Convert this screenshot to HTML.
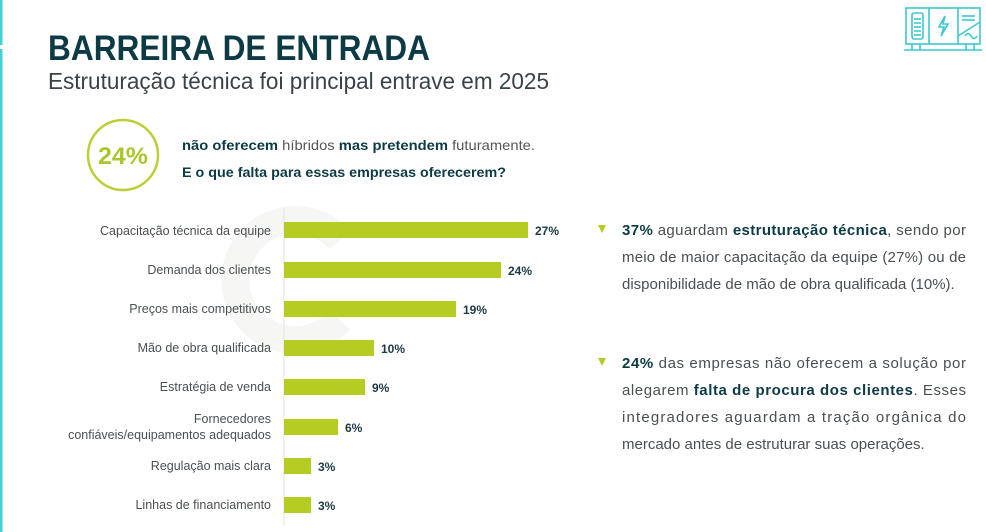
<!DOCTYPE html>
<html><head><meta charset="utf-8"><style>
html,body{margin:0;padding:0;background:#fff}
svg{display:block}
</style></head><body>
<svg width="986" height="532" viewBox="0 0 986 532" xmlns="http://www.w3.org/2000/svg" font-family="Liberation Sans, sans-serif">
<rect x="0" y="0" width="2.5" height="45" fill="#3fd0d8"/>
<rect x="0" y="49" width="2.5" height="483" fill="#3fd0d8"/>
<g fill="none" stroke="#3cc8d0" stroke-width="1.6">
<rect x="906" y="8" width="74" height="36"/>
<line x1="929" y1="8" x2="929" y2="44"/>
<line x1="958" y1="8" x2="958" y2="44"/>
<rect x="912" y="13" width="11" height="26" rx="2"/>
<line x1="914" y1="19" x2="921" y2="19"/><line x1="914" y1="23" x2="921" y2="23"/><line x1="914" y1="27" x2="921" y2="27"/><line x1="914" y1="31" x2="921" y2="31"/><line x1="914" y1="35" x2="921" y2="35"/>
<path d="M945 16 L939 27 L944 27 L941 36 L948 24 L943 24 Z"/>
<line x1="958" y1="36" x2="980" y2="22"/>
<line x1="962" y1="16" x2="975" y2="16"/><line x1="962" y1="20" x2="975" y2="20"/>
<path d="M965 36 q3 -5 6 0 q3 5 6 0"/>
<line x1="904" y1="50" x2="982" y2="50"/>
<line x1="912" y1="44" x2="912" y2="50"/><line x1="920" y1="44" x2="920" y2="50"/>
<line x1="966" y1="44" x2="966" y2="50"/><line x1="974" y1="44" x2="974" y2="50"/>
</g>
<text x="48" y="60" font-size="35" font-weight="bold" fill="#0d3b45" textLength="382" lengthAdjust="spacingAndGlyphs">BARREIRA DE ENTRADA</text>
<text x="48" y="89" font-size="23" fill="#3a4448" textLength="501" lengthAdjust="spacingAndGlyphs">Estruturação técnica foi principal entrave em 2025</text>
<circle cx="123" cy="155" r="35" fill="none" stroke="#bccf35" stroke-width="2.5"/>
<text x="123" y="164" font-size="24" font-weight="bold" fill="#a9c62a" text-anchor="middle" textLength="50" lengthAdjust="spacingAndGlyphs">24%</text>
<text x="182" y="150" font-size="14" fill="#555" textLength="353" lengthAdjust="spacingAndGlyphs"><tspan font-weight="bold" fill="#0d3b45">não oferecem</tspan> híbridos <tspan font-weight="bold" fill="#0d3b45">mas pretendem</tspan> futuramente.</text>
<text x="182" y="177" font-size="14" font-weight="bold" fill="#0d3b45" textLength="324" lengthAdjust="spacingAndGlyphs">E o que falta para essas empresas oferecerem?</text>
<path d="M340 240 A60 60 0 1 0 340 320" fill="none" stroke="#f6f7f4" stroke-width="28"/>
<line x1="284" y1="208" x2="284" y2="525" stroke="#e2e2e2" stroke-width="1"/>
<g fill="#b5cc22">
<rect x="284" y="222" width="244" height="16"/>
<rect x="284" y="262" width="217" height="16"/>
<rect x="284" y="301" width="172" height="16"/>
<rect x="284" y="340" width="90" height="16"/>
<rect x="284" y="379" width="81" height="16"/>
<rect x="284" y="419" width="54" height="16"/>
<rect x="284" y="458" width="27" height="16"/>
<rect x="284" y="497" width="27" height="16"/>
</g>
<g font-size="12" font-weight="bold" fill="#1d3a44">
<text x="535" y="235">27%</text>
<text x="508" y="275">24%</text>
<text x="463" y="314">19%</text>
<text x="381" y="353">10%</text>
<text x="372" y="392">9%</text>
<text x="345" y="432">6%</text>
<text x="318" y="471">3%</text>
<text x="318" y="510">3%</text>
</g>
<g font-size="12.5" fill="#4a4f52" text-anchor="end">
<text x="271" y="235">Capacitação técnica da equipe</text>
<text x="271" y="274">Demanda dos clientes</text>
<text x="271" y="313">Preços mais competitivos</text>
<text x="271" y="352">Mão de obra qualificada</text>
<text x="271" y="391">Estratégia de venda</text>
<text x="271" y="423">Fornecedores</text>
<text x="271" y="439">confiáveis/equipamentos adequados</text>
<text x="271" y="470">Regulação mais clara</text>
<text x="271" y="509">Linhas de financiamento</text>
</g>
<path d="M598 225 L606 225 L602 233 Z" fill="#b5cc22"/>
<path d="M598 358 L606 358 L602 366 Z" fill="#b5cc22"/>
<g font-size="15" fill="#4a4f52">
<text x="622" y="235" textLength="344" lengthAdjust="spacing"><tspan font-weight="bold" fill="#0d3b45">37%</tspan> aguardam <tspan font-weight="bold" fill="#0d3b45">estruturação técnica</tspan>, sendo por</text>
<text x="622" y="262" textLength="344" lengthAdjust="spacing">meio de maior capacitação da equipe (27%) ou de</text>
<text x="622" y="289">disponibilidade de mão de obra qualificada (10%).</text>
<text x="622" y="368" textLength="344" lengthAdjust="spacing"><tspan font-weight="bold" fill="#0d3b45">24%</tspan> das empresas não oferecem a solução por</text>
<text x="622" y="395" textLength="344" lengthAdjust="spacing">alegarem <tspan font-weight="bold" fill="#0d3b45">falta de procura dos clientes</tspan>. Esses</text>
<text x="622" y="422" textLength="344" lengthAdjust="spacing">integradores aguardam a tração orgânica do</text>
<text x="622" y="449">mercado antes de estruturar suas operações.</text>
</g>
</svg>
</body></html>
